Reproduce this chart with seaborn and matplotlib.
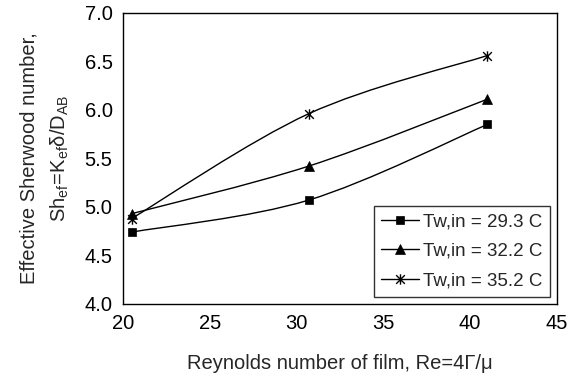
import numpy as np
import pandas as pd
import seaborn as sns
import matplotlib
matplotlib.use("Agg")
import matplotlib.pyplot as plt
from matplotlib.path import Path
from matplotlib.patches import PathPatch
from matplotlib.lines import Line2D

# ---- data ----
reynolds = [20.5, 30.7, 41.0]
sh_293 = [4.74, 5.07, 5.85]
sh_322 = [4.93, 5.42, 6.11]
sh_352 = [4.88, 5.96, 6.56]
series_labels = ["Tw,in = 29.3 C", "Tw,in = 32.2 C", "Tw,in = 35.2 C"]
x_ticks = [20, 25, 30, 35, 40, 45]
y_ticks = [4.0, 4.5, 5.0, 5.5, 6.0, 6.5, 7.0]

sns.set_style("white")
plt.rcParams["font.family"] = ["Liberation Sans", "DejaVu Sans"]
plt.rcParams["mathtext.fontset"] = "custom"
plt.rcParams["mathtext.rm"] = "Liberation Sans"
plt.rcParams["mathtext.it"] = "Liberation Sans"

df = pd.concat([
    pd.DataFrame({"Re": reynolds, "Sh": vals, "series": lab})
    for vals, lab in zip([sh_293, sh_322, sh_352], series_labels)
])

fig = plt.figure(figsize=(5.8, 3.78), dpi=100)
ax = fig.add_axes([0.212, 0.196, 0.748, 0.770])

# custom asterisk marker: X with vertical bar
star = Path(
    [(-1, -1), (1, 1), (-1, 1), (1, -1), (0, -1.2), (0, 1.2)],
    [Path.MOVETO, Path.LINETO, Path.MOVETO, Path.LINETO, Path.MOVETO, Path.LINETO],
)
markers = {series_labels[0]: "s", series_labels[1]: "^", series_labels[2]: star}
sizes = {series_labels[0]: 5.8, series_labels[1]: 7.0, series_labels[2]: 7.5}


def smooth_path(xs, ys):
    pts = np.column_stack([xs, ys])
    n = len(pts)
    verts = [tuple(pts[0])]
    codes = [Path.MOVETO]
    for i in range(n - 1):
        p0 = pts[max(i - 1, 0)]
        p1 = pts[i]
        p2 = pts[i + 1]
        p3 = pts[min(i + 2, n - 1)]
        c1 = p1 + (p2 - p0) / 6.0
        c2 = p2 - (p3 - p1) / 6.0
        verts += [tuple(c1), tuple(c2), tuple(p2)]
        codes += [Path.CURVE4] * 3
    return Path(verts, codes)


handles = []
for lab in series_labels:
    sub = df[df["series"] == lab]
    ax.add_patch(PathPatch(smooth_path(sub["Re"].values, sub["Sh"].values),
                           facecolor="none", edgecolor="black", lw=1.0, zorder=2))
    m = markers[lab]
    mew = 1.0 if lab == series_labels[2] else 0.5
    sns.lineplot(data=sub, x="Re", y="Sh", ax=ax, linestyle="", marker=m,
                 markersize=sizes[lab], color="black", markeredgecolor="black",
                 markeredgewidth=mew, legend=False, zorder=3, estimator=None)
    handles.append(Line2D([0], [0], color="black", lw=1.0, marker=m,
                          markersize=sizes[lab], markeredgecolor="black",
                          markeredgewidth=mew, label=lab))

ax.set_xlim(20, 45)
ax.set_ylim(4.0, 7.0)
ax.set_xticks(x_ticks)
ax.set_yticks(y_ticks)
ax.set_xticklabels([str(t) for t in x_ticks])
ax.set_yticklabels([f"{t:.1f}" for t in y_ticks])
ax.tick_params(direction="inout", length=11, width=1.0, labelsize=14.5,
               colors="black", pad=2)
for s in ax.spines.values():
    s.set_visible(True)
    s.set_color("black")
    s.set_linewidth(1.0)

ax.set_xlabel("Reynolds number of film, Re=4\u0393/\u03bc", fontsize=14.5, labelpad=15)
ax.set_ylabel("Effective Sherwood number,\n"
              r"$\mathregular{Sh_{ef}\!=\!K_{ef}\delta/D_{AB}}$",
              fontsize=14.5, labelpad=10, linespacing=1.6)

leg = ax.legend(handles=handles, loc="lower right", bbox_to_anchor=(0.985, 0.025),
                fontsize=13.5, frameon=True, fancybox=False, shadow=False,
                handlelength=2.0, handletextpad=0.25, borderpad=0.4,
                labelspacing=0.65, borderaxespad=0.0)
leg.get_frame().set_edgecolor("black")
leg.get_frame().set_linewidth(1.0)

fig.savefig("out.png", dpi=100)
